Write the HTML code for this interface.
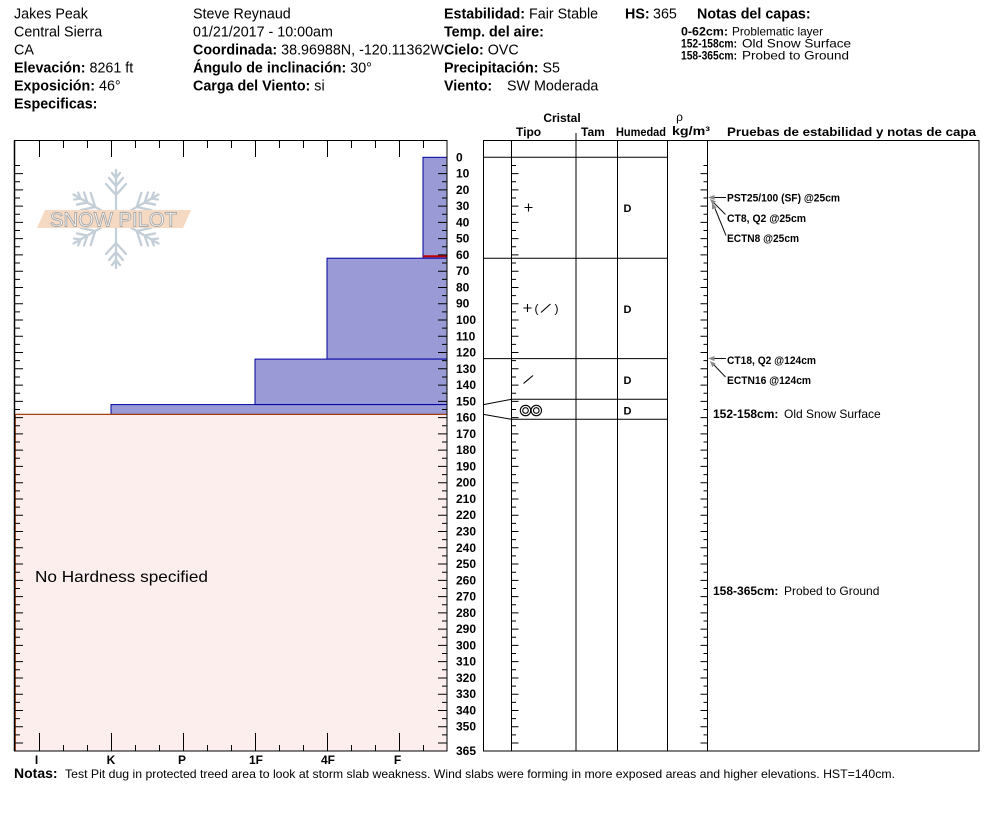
<!DOCTYPE html>
<html><head><meta charset="utf-8"><style>
html,body{margin:0;padding:0;background:#fff;}
svg{display:block;}
text{font-family:"Liberation Sans",Arial,sans-serif;fill:#000;}
.b{font-weight:bold;}
</style></head><body>
<svg width="994" height="840" viewBox="0 0 994 840" xmlns="http://www.w3.org/2000/svg">
<rect x="0" y="0" width="994" height="840" fill="#fff"/>

<!-- Header -->
<g font-size="14.3">
<text x="14" y="18.5">Jakes Peak</text>
<text x="14" y="36.5">Central Sierra</text>
<text x="14" y="54.5">CA</text>
<text x="14" y="72.5"><tspan class="b">Elevación:</tspan> 8261 ft</text>
<text x="14" y="90.5"><tspan class="b">Exposición:</tspan> 46°</text>
<text x="14" y="108.5" class="b">Especificas:</text>

<text x="193" y="18.5">Steve Reynaud</text>
<text x="193" y="36.5">01/21/2017 - 10:00am</text>
<text x="193" y="54.5"><tspan class="b">Coordinada:</tspan> 38.96988N, -120.11362W</text>
<text x="193" y="72.5"><tspan class="b">Ángulo de inclinación:</tspan> 30°</text>
<text x="193" y="90.5"><tspan class="b">Carga del Viento:</tspan> si</text>

<text x="444" y="18.5"><tspan class="b">Estabilidad:</tspan> Fair Stable</text>
<text x="625" y="18.5" class="b">HS:</text>
<text x="653" y="18.5">365</text>
<text x="697" y="18.5" class="b">Notas del capas:</text>
<text x="444" y="36.5" class="b">Temp. del aire:</text>
<text x="444" y="54.5"><tspan class="b">Cielo:</tspan> OVC</text>
<text x="444" y="72.5"><tspan class="b">Precipitación:</tspan> S5</text>
<text x="444" y="90.5"><tspan class="b">Viento:</tspan> <tspan x="507">SW Moderada</tspan></text>
</g>
<g font-size="12">
<text x="681" y="35.5" font-weight="bold" textLength="47" lengthAdjust="spacingAndGlyphs">0-62cm:</text>
<text x="732" y="35.5" textLength="91" lengthAdjust="spacingAndGlyphs">Problematic layer</text>
<text x="681" y="47.5" font-weight="bold" textLength="56" lengthAdjust="spacingAndGlyphs">152-158cm:</text>
<text x="742" y="47.5" textLength="109" lengthAdjust="spacingAndGlyphs">Old Snow Surface</text>
<text x="681" y="59.5" font-weight="bold" textLength="56" lengthAdjust="spacingAndGlyphs">158-365cm:</text>
<text x="742" y="59.5" textLength="107" lengthAdjust="spacingAndGlyphs">Probed to Ground</text>
</g>

<!-- Left hardness chart -->
<rect x="14" y="414.4" width="433" height="336.6" fill="#fdeeee"/>
<rect x="423" y="157.3" width="24" height="100.9" fill="#9a9ad6" stroke="#0000a0" stroke-width="1"/>
<rect x="327" y="258.2" width="120" height="100.9" fill="#9a9ad6" stroke="#0000a0" stroke-width="1"/>
<rect x="255" y="359.1" width="192" height="45.5" fill="#9a9ad6" stroke="#0000a0" stroke-width="1"/>
<rect x="111" y="404.6" width="336" height="9.8" fill="#9a9ad6" stroke="#0000a0" stroke-width="1"/>
<line x1="423" y1="256.3" x2="447" y2="256.3" stroke="#c00000" stroke-width="2"/>
<line x1="14" y1="414.4" x2="447" y2="414.4" stroke="#a8400c" stroke-width="1.2"/>
<line x1="15.5" y1="414.4" x2="15.5" y2="751" stroke="#c0602c" stroke-width="1"/>

<!-- Logo -->
<g stroke="#c3ced8" stroke-width="2.3" fill="none" stroke-linecap="round">
<g transform="translate(116,219)">
<path d="M0,0 V-49 M0,-41 L-4,-46 M0,-41 L4,-46 M0,-33 L-7,-41 M0,-33 L7,-41 M0,-24 L-10,-35 M0,-24 L10,-35"/>
<path d="M0,0 V-49 M0,-41 L-4,-46 M0,-41 L4,-46 M0,-33 L-7,-41 M0,-33 L7,-41 M0,-24 L-10,-35 M0,-24 L10,-35" transform="rotate(60)"/>
<path d="M0,0 V-49 M0,-41 L-4,-46 M0,-41 L4,-46 M0,-33 L-7,-41 M0,-33 L7,-41 M0,-24 L-10,-35 M0,-24 L10,-35" transform="rotate(120)"/>
<path d="M0,0 V-49 M0,-41 L-4,-46 M0,-41 L4,-46 M0,-33 L-7,-41 M0,-33 L7,-41 M0,-24 L-10,-35 M0,-24 L10,-35" transform="rotate(180)"/>
<path d="M0,0 V-49 M0,-41 L-4,-46 M0,-41 L4,-46 M0,-33 L-7,-41 M0,-33 L7,-41 M0,-24 L-10,-35 M0,-24 L10,-35" transform="rotate(240)"/>
<path d="M0,0 V-49 M0,-41 L-4,-46 M0,-41 L4,-46 M0,-33 L-7,-41 M0,-33 L7,-41 M0,-24 L-10,-35 M0,-24 L10,-35" transform="rotate(300)"/>
</g>
</g>
<polygon points="45,210 191,210 183,228 37,228" fill="#f6d9c2"/>
<text x="50" y="226.5" font-size="20" textLength="127" lengthAdjust="spacingAndGlyphs" style="fill:#fff;stroke:#a8a8a8;stroke-width:0.9">SNOW PILOT</text>

<text x="35" y="582" font-size="16" textLength="173" lengthAdjust="spacingAndGlyphs">No Hardness specified</text>

<!-- left chart frame -->
<rect x="14.5" y="140.5" width="432.5" height="610.5" fill="none" stroke="#000" stroke-width="1"/>
<line x1="14.5" y1="140.5" x2="14.5" y2="751" stroke="#000" stroke-width="1.5"/>
<line x1="18.5" y1="173.07" x2="18.5" y2="744" stroke="#000" stroke-width="9" stroke-dasharray="1 15.27"/>
<line x1="17" y1="164.94" x2="17" y2="736" stroke="#000" stroke-width="6" stroke-dasharray="1 15.27"/>
<line x1="442.5" y1="173.07" x2="442.5" y2="744" stroke="#000" stroke-width="9" stroke-dasharray="1 15.27"/>
<line x1="444.5" y1="164.94" x2="444.5" y2="736" stroke="#000" stroke-width="5" stroke-dasharray="1 15.27"/>
<g stroke="#000" stroke-width="1">
<path d="M39.5,141 V157 M111.5,141 V157 M183.5,141 V157 M255.5,141 V157 M327.5,141 V157 M399.5,141 V157"/>
<path d="M63.5,141 V148 M87.5,141 V148 M135.5,141 V148 M159.5,141 V148 M207.5,141 V148 M231.5,141 V148 M279.5,141 V148 M303.5,141 V148 M351.5,141 V148 M375.5,141 V148 M423.5,141 V148"/>
<path d="M39.5,751 V733 M111.5,751 V733 M183.5,751 V733 M255.5,751 V733 M327.5,751 V733 M399.5,751 V733"/>
<path d="M63.5,751 V745 M87.5,751 V745 M135.5,751 V745 M159.5,751 V745 M207.5,751 V745 M231.5,751 V745 M279.5,751 V745 M303.5,751 V745 M351.5,751 V745 M375.5,751 V745 M423.5,751 V745"/>
</g>
<g font-size="12" text-anchor="middle" font-weight="bold">
<text x="36.5" y="764">I</text>
<text x="111" y="764">K</text>
<text x="182" y="764">P</text>
<text x="256" y="764">1F</text>
<text x="328" y="764">4F</text>
<text x="397.5" y="764">F</text>
</g>

<!-- depth labels -->
<g font-size="12" font-weight="bold">
<text x="456" y="161.3">0</text>
<text x="456" y="177.6">10</text>
<text x="456" y="193.8">20</text>
<text x="456" y="210.1">30</text>
<text x="456" y="226.4">40</text>
<text x="456" y="242.7">50</text>
<text x="456" y="258.9">60</text>
<text x="456" y="275.2">70</text>
<text x="456" y="291.5">80</text>
<text x="456" y="307.7">90</text>
<text x="456" y="324.0">100</text>
<text x="456" y="340.3">110</text>
<text x="456" y="356.5">120</text>
<text x="456" y="372.8">130</text>
<text x="456" y="389.1">140</text>
<text x="456" y="405.4">150</text>
<text x="456" y="421.6">160</text>
<text x="456" y="437.9">170</text>
<text x="456" y="454.2">180</text>
<text x="456" y="470.4">190</text>
<text x="456" y="486.7">200</text>
<text x="456" y="503.0">210</text>
<text x="456" y="519.2">220</text>
<text x="456" y="535.5">230</text>
<text x="456" y="551.8">240</text>
<text x="456" y="568.1">250</text>
<text x="456" y="584.3">260</text>
<text x="456" y="600.6">270</text>
<text x="456" y="616.9">280</text>
<text x="456" y="633.1">290</text>
<text x="456" y="649.4">300</text>
<text x="456" y="665.7">310</text>
<text x="456" y="681.9">320</text>
<text x="456" y="698.2">330</text>
<text x="456" y="714.5">340</text>
<text x="456" y="730.7">350</text>
<text x="456" y="755">365</text>
</g>

<!-- Table headers -->
<g font-size="12" font-weight="bold">
<text x="562" y="122" text-anchor="middle">Cristal</text>
<text x="516" y="136">Tipo</text>
<text x="581" y="136">Tam</text>
<text x="616" y="136" textLength="50" lengthAdjust="spacingAndGlyphs">Humedad</text>
<text x="679.5" y="121" text-anchor="middle" font-weight="normal">ρ</text>
<text x="672" y="135" textLength="38" lengthAdjust="spacingAndGlyphs">kg/m³</text>
<text x="727" y="136" textLength="249" lengthAdjust="spacingAndGlyphs">Pruebas de estabilidad y notas de capa</text>
</g>

<!-- Table frame -->
<g stroke="#000" stroke-width="1" fill="none">
<rect x="483.5" y="140.5" width="495.5" height="610.5"/>
<path d="M511.5,140.5 V751 M576,133 V751 M617.5,140.5 V751 M667.5,140.5 V751 M707.5,140.5 V751"/>
<path d="M483.5,157.3 H667.5 M483.5,258.2 H667.5 M483.5,358.6 H667.5 M511.5,399.3 H667.5 M511.5,419.3 H667.5"/>
<path d="M483.5,404.6 L511.5,399.3 M483.5,414.4 L511.5,419.3"/>
</g>
<line x1="515" y1="173.07" x2="515" y2="744" stroke="#000" stroke-width="7" stroke-dasharray="1 15.27"/>
<line x1="513.5" y1="164.94" x2="513.5" y2="736" stroke="#000" stroke-width="5" stroke-dasharray="1 15.27"/>
<line x1="704" y1="173.07" x2="704" y2="744" stroke="#000" stroke-width="7" stroke-dasharray="1 15.27"/>
<line x1="705.5" y1="164.94" x2="705.5" y2="736" stroke="#000" stroke-width="4" stroke-dasharray="1 15.27"/>

<!-- Crystal symbols -->
<g stroke="#000" stroke-width="1.1" fill="none">
<path d="M524.5,207.5 H532.5 M528.5,203.5 V211.5"/>
<path d="M523.5,308 H531.5 M527.5,304 V312"/>
<path d="M541,312.5 L550.5,304"/>
<path d="M523.5,383.5 L533,375.5"/>
<circle cx="525.5" cy="410.5" r="5.2"/>
<circle cx="525.5" cy="410.5" r="2.8"/>
<circle cx="536.3" cy="410.5" r="5.2"/>
<circle cx="536.3" cy="410.5" r="2.8"/>
</g>
<text x="534.5" y="312.5" font-size="12">(</text>
<text x="554.5" y="312.5" font-size="12">)</text>
<g font-size="11" font-weight="bold">
<text x="623.5" y="212">D</text>
<text x="623.5" y="313">D</text>
<text x="623.5" y="384">D</text>
<text x="623.5" y="414.5">D</text>
</g>

<!-- Stability tests -->
<g font-size="11" font-weight="bold">
<text x="727" y="201.7" textLength="113" lengthAdjust="spacingAndGlyphs">PST25/100 (SF) @25cm</text>
<text x="727" y="222" textLength="79" lengthAdjust="spacingAndGlyphs">CT8, Q2 @25cm</text>
<text x="727" y="242" textLength="72" lengthAdjust="spacingAndGlyphs">ECTN8 @25cm</text>
<text x="727" y="364" textLength="89" lengthAdjust="spacingAndGlyphs">CT18, Q2 @124cm</text>
<text x="727" y="384" textLength="84" lengthAdjust="spacingAndGlyphs">ECTN16 @124cm</text>
</g>
<g stroke="#111" stroke-width="1" fill="none">
<path d="M714,197.5 H726"/>
<path d="M714,203 L725.5,214.5"/>
<path d="M715,208.5 L726,235.5"/>
<path d="M714,358.5 H726"/>
<path d="M714,365 L725.5,377"/>
</g>
<g fill="#888">
<polygon points="708,197.5 714.5,195 714.5,200"/>
<polygon points="710,199 712.5,205 716,201.4"/>
<polygon points="712,203 712,209.5 716.6,207.5"/>
<polygon points="708,358.5 714.5,356 714.5,361"/>
<polygon points="710,361 712.3,367.1 715.9,363.7"/>
</g>
<g font-size="12">
<text x="713" y="418"><tspan font-weight="bold">152-158cm:</tspan> <tspan x="784">Old Snow Surface</tspan></text>
<text x="713" y="595"><tspan font-weight="bold">158-365cm:</tspan> <tspan x="784">Probed to Ground</tspan></text>
</g>

<!-- Notes -->
<text x="14" y="778" font-size="14" font-weight="bold">Notas:</text>
<text x="65" y="778" font-size="12" textLength="830" lengthAdjust="spacingAndGlyphs">Test Pit dug in protected treed area to look at storm slab weakness.  Wind slabs were forming in more exposed areas and higher elevations.  HST=140cm.</text>
</svg>
</body></html>
